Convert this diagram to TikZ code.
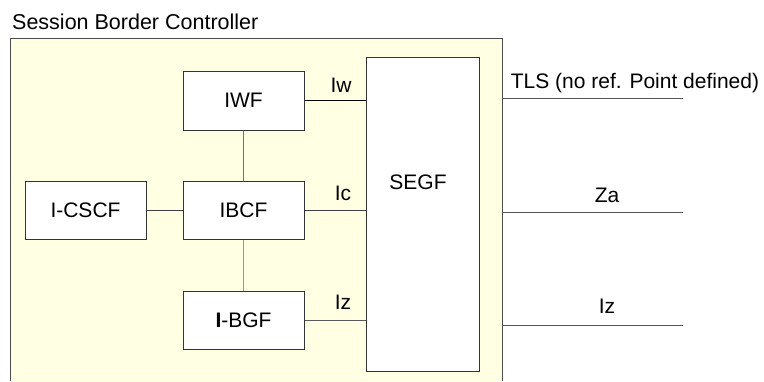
\documentclass[tikz,border=0pt]{standalone}
\usepackage{fontspec}
\setmainfont{Liberation Sans}
\definecolor{sbcfill}{HTML}{FFFFE4}
\definecolor{linegray}{HTML}{555555}
\begin{document}
\begin{tikzpicture}[x=1pt,y=-1pt,
  box/.style={draw=black!80, fill=white, line width=1pt, inner sep=0pt,
    font=\fontsize{21}{25}\selectfont},
  lbl/.style={inner sep=0pt, font=\fontsize{21}{25}\selectfont}]
\useasboundingbox (0,0) rectangle (764,381);
% session border controller frame, open at the bottom
\fill[sbcfill] (10,38) rectangle (502,381);
\draw[black!70, line width=1pt] (10,381) -- (10,38) -- (502,38) -- (502,381);
\node[lbl, anchor=base west, font=\fontsize{21.5}{25}\selectfont] (sbc) at (12,29) {Session Border Controller};
% functions
\node[box, minimum width=121pt, minimum height=59pt] (iwf) at (243.5,100.5) {IWF};
\node[box, minimum width=121pt, minimum height=58pt] (ibcf) at (243.5,210) {IBCF};
\node[box, minimum width=121pt, minimum height=58pt] (icscf) at (85.5,210) {I-CSCF};
\node[box, minimum width=121pt, minimum height=58pt] (ibgf) at (243.5,320) {\textbf{I}-BGF};
\node[box, minimum width=113pt, minimum height=314pt] (segf) at (422.5,214) {};
\node[lbl] (segftxt) at (418,182) {SEGF};
% internal reference points
\draw[line width=1.5pt] (iwf.east) -- (iwf.east -| segf.west);
\draw[black!75, line width=1pt] (ibcf.east) -- (ibcf.east -| segf.west);
\draw[black!65, line width=1pt] (ibgf.east) -- (ibgf.east -| segf.west);
\draw[black!75, line width=1pt] (icscf) -- (ibcf);
\draw[black!55, line width=1pt] (iwf) -- (ibcf);
\draw[black!40, line width=1pt] (ibcf) -- (ibgf);
\node[lbl] (iw) at (341,85) {Iw};
\node[lbl] (ic) at (343,193) {Ic};
\node[lbl] (izin) at (343,302) {Iz};
% external reference points
\coordinate (tlsa) at (502,98);
\coordinate (tlsb) at (683,98);
\coordinate (zaa) at (502,212);
\coordinate (zab) at (683,212);
\coordinate (iza) at (502,325);
\coordinate (izb) at (683,325);
\draw[linegray, line width=1pt] (tlsa) -- (tlsb);
\draw[linegray, line width=1pt] (zaa) -- (zab);
\draw[linegray, line width=1pt] (iza) -- (izb);
\node[lbl] (tls) at (635,83) {TLS (no ref. Point defined)};
\node[lbl] (za) at (607,195) {Za};
\node[lbl] (izout) at (607,306) {Iz};
\end{tikzpicture}
\end{document}
